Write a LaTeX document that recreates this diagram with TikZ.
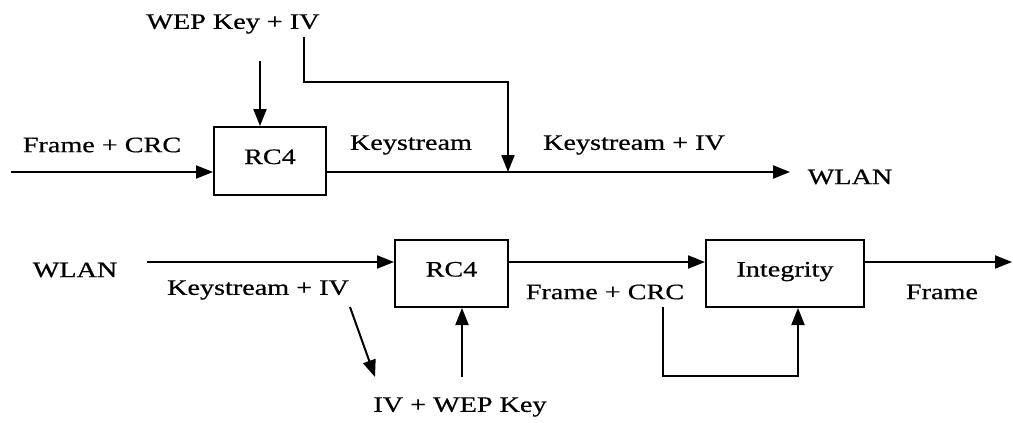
\documentclass[tikz,border=0pt]{standalone}
\usepackage{fontspec}
\setmainfont{Liberation Serif}[FakeStretch=1.28, FakeBold=0.6]
\usepackage{tikz}
\usetikzlibrary{arrows.meta, calc, positioning}

\begin{document}
\begin{tikzpicture}[x=1pt, y=-1pt,
    blk/.style={draw, line width=2pt, inner sep=0pt, text height=15pt, text depth=9pt},
    lbl/.style={inner sep=0pt},
    arr/.style={-{Triangle[length=17pt, width=13pt]}, line width=2pt},
    every node/.style={font=\fontsize{22}{24}\selectfont}]
    \useasboundingbox (0,0) rectangle (1013,423);

    % 加密部分
    \node[blk, minimum width=112pt, minimum height=68pt] (rcA) at (270,161) {RC4};
    \node[lbl] (wepA) at (233,24) {WEP Key + IV};
    \node[lbl] (frA) at (102,145) {Frame + CRC};
    \node[lbl] (ksA) at (411,145) {Keystream};
    \node[lbl] (ksivA) at (634,145) {Keystream + IV};
    \node[lbl] (wlanA) at (850,177) {WLAN};
    \coordinate (inA) at (11,172);
    \coordinate (keyA) at (260,61);
    \coordinate (ivA) at (304,37);
    \coordinate (bendA) at (508,82);
    \coordinate (mixA) at (508,172);
    \coordinate (outA) at (790,172);

    \draw[arr] (inA) -- (rcA.west |- inA);
    \draw[arr] (keyA) -- (keyA |- rcA.north);
    \draw[line width=2pt] (rcA.east |- inA) -- (mixA);
    \draw[arr] (mixA) -- (outA);
    \draw[arr] (ivA) |- (bendA) -- (mixA);

    % 解密部分
    \node[blk, minimum width=113pt, minimum height=67pt] (rcB) at (451.5,273.5) {RC4};
    \node[blk, minimum width=158pt, minimum height=67pt] (integ) at (785,273.5) {Integrity};
    \node[lbl] (wlanB) at (75,270) {WLAN};
    \node[lbl] (ksivB) at (258,290) {Keystream + IV};
    \node[lbl] (ivwep) at (460,407) {IV + WEP Key};
    \node[lbl] (fcB) at (605,292) {Frame + CRC};
    \node[lbl] (frameB) at (942,292) {Frame};
    \coordinate (inB) at (147,262);
    \coordinate (outB) at (1012,262);
    \coordinate (splitB) at (350,307);
    \coordinate (ivB) at (375,377);
    \coordinate (keyB) at (462,377);
    \coordinate (crcB) at (663,307);
    \coordinate (loopB) at (798,376);

    \draw[arr] (inB) -- (rcB.west |- inB);
    \draw[arr] (splitB) -- (ivB);
    \draw[arr] (keyB) -- (keyB |- rcB.south);
    \draw[arr] (rcB.east |- inB) -- (integ.west |- inB);
    \draw[arr] (integ.east |- inB) -- (outB);

    % 校验回路
    \draw[arr] (crcB) |- (loopB) -- (loopB |- integ.south);
\end{tikzpicture}
\end{document}
